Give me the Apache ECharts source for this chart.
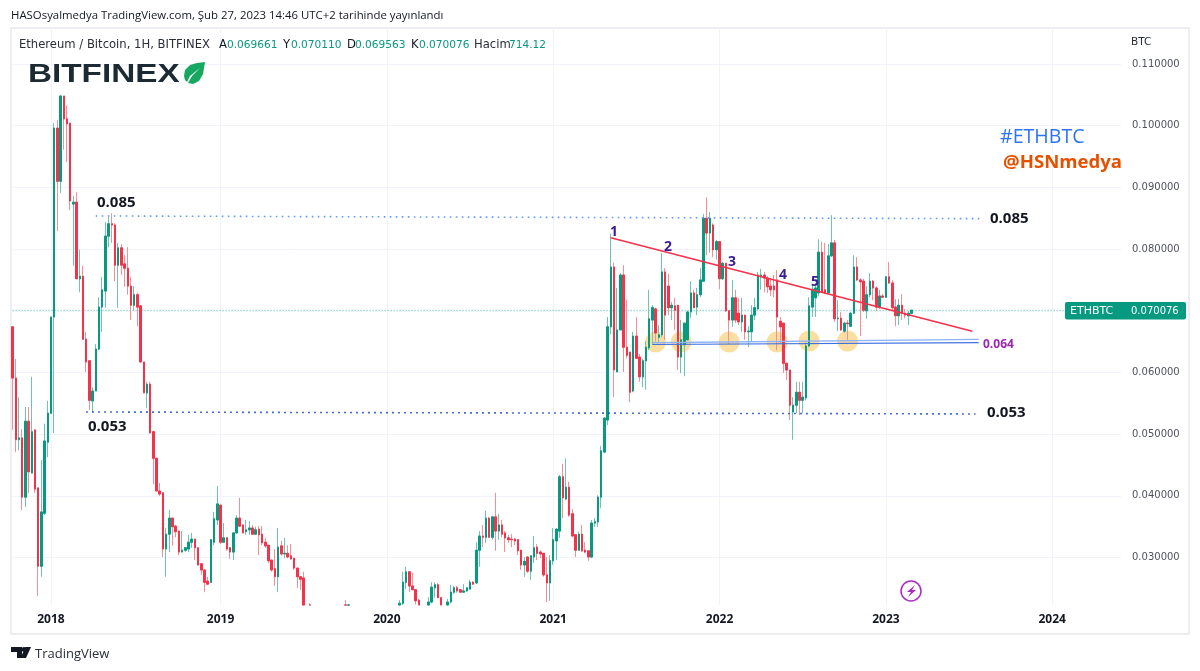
<!DOCTYPE html>
<html>
<head>
<meta charset="utf-8">
<style>html,body{margin:0;padding:0;background:#fff}#chart{width:1200px;height:671px}</style>
<script src="https://cdn.jsdelivr.net/npm/echarts@6/dist/echarts.min.js"></script>
</head>
<body>
<div id="chart"></div>
<script>
// weekly ETH/BTC candles
var opens = [
0.0674,0.0591,0.0491,0.0494,0.0398,0.0521,0.0437,0.0507,0.0413,0.0286,
0.0372,0.0487,0.0534,0.0690,0.0996,0.0910,0.1048,0.1011,0.1004,0.0873,
0.0876,0.0752,0.0756,0.0654,0.0619,0.0554,0.0570,0.0638,0.0706,0.0732,
0.0821,0.0841,0.0839,0.0774,0.0802,0.0776,0.0769,0.0740,0.0709,0.0726,
0.0708,0.0617,0.0567,0.0581,0.0504,0.0461,0.0408,0.0405,0.0314,0.0338,
0.0364,0.0351,0.0343,0.0309,0.0312,0.0314,0.0325,0.0330,0.0316,0.0290,
0.0280,0.0262,0.0260,0.0325,0.0361,0.0385,0.0325,0.0332,0.0316,0.0309,
0.0340,0.0364,0.0353,0.0342,0.0345,0.0348,0.0338,0.0346,0.0338,0.0325,
0.0320,0.0296,0.0282,0.0269,0.0319,0.0306,0.0307,0.0303,0.0299,0.0283,
0.0269,0.0267,0.0195,0.0188,0.0190,0.0185,0.0183,0.0186,0.0182,0.0179,
0.0184,0.0190,0.0202,0.0208,0.0212,0.0218,0.0205,0.0203,0.0199,0.0196,
0.0194,0.0190,0.0187,0.0186,0.0184,0.0182,0.0185,0.0189,0.0195,0.0200,
0.0207,0.0214,0.0226,0.0260,0.0277,0.0254,0.0248,0.0231,0.0212,0.0200,
0.0205,0.0228,0.0251,0.0256,0.0235,0.0215,0.0210,0.0228,0.0244,0.0251,
0.0248,0.0244,0.0246,0.0249,0.0260,0.0259,0.0312,0.0335,0.0333,0.0364,
0.0333,0.0366,0.0343,0.0353,0.0340,0.0332,0.0330,0.0330,0.0329,0.0312,
0.0288,0.0301,0.0278,0.0301,0.0317,0.0309,0.0307,0.0272,0.0259,0.0295,
0.0327,0.0343,0.0431,0.0395,0.0414,0.0371,0.0337,0.0312,0.0338,0.0312,
0.0311,0.0301,0.0356,0.0358,0.0398,0.0471,0.0523,0.0674,0.0771,0.0601,
0.0669,0.0758,0.0641,0.0633,0.0570,0.0659,0.0625,0.0593,0.0619,0.0640,
0.0685,0.0703,0.0657,0.0661,0.0763,0.0740,0.0705,0.0708,0.0709,0.0625,
0.0645,0.0653,0.0698,0.0729,0.0706,0.0726,0.0748,0.0850,0.0826,0.0839,
0.0799,0.0812,0.0752,0.0777,0.0700,0.0685,0.0721,0.0696,0.0682,0.0693,
0.0666,0.0666,0.0693,0.0703,0.0755,0.0758,0.0753,0.0740,0.0740,0.0750,
0.0683,0.0680,0.0615,0.0604,0.0536,0.0547,0.0568,0.0555,0.0559,0.0643,
0.0706,0.0721,0.0729,0.0795,0.0734,0.0729,0.0789,0.0810,0.0687,0.0688,
0.0667,0.0680,0.0675,0.0696,0.0771,0.0750,0.0748,0.0700,0.0726,0.0748,
0.0737,0.0706,0.0724,0.0722,0.0755,0.0745,0.0706,0.0692,0.0709,0.0696,
0.0692,0.0696];
var highs = [
0.0675,0.0622,0.0560,0.0508,0.0544,0.0544,0.0593,0.0507,0.0413,0.0458,
0.0517,0.0554,0.0690,0.1004,0.1009,0.1050,0.1048,0.1033,0.1004,0.0886,
0.0892,0.0799,0.0773,0.0666,0.0619,0.0576,0.0646,0.0722,0.0755,0.0844,
0.0852,0.0858,0.0842,0.0810,0.0808,0.0790,0.0803,0.0755,0.0740,0.0729,
0.0709,0.0617,0.0585,0.0585,0.0504,0.0461,0.0421,0.0405,0.0348,0.0377,
0.0364,0.0353,0.0343,0.0343,0.0317,0.0337,0.0340,0.0330,0.0316,0.0290,
0.0280,0.0269,0.0330,0.0374,0.0416,0.0385,0.0356,0.0332,0.0317,0.0341,
0.0369,0.0397,0.0353,0.0361,0.0359,0.0353,0.0350,0.0351,0.0351,0.0332,
0.0320,0.0296,0.0314,0.0348,0.0327,0.0332,0.0320,0.0322,0.0299,0.0283,
0.0269,0.0277,0.0205,0.0226,0.0198,0.0192,0.0192,0.0195,0.0190,0.0186,
0.0193,0.0205,0.0213,0.0218,0.0231,0.0225,0.0214,0.0210,0.0207,0.0204,
0.0200,0.0197,0.0194,0.0192,0.0190,0.0189,0.0193,0.0198,0.0203,0.0210,
0.0218,0.0231,0.0277,0.0285,0.0277,0.0275,0.0248,0.0233,0.0218,0.0210,
0.0236,0.0260,0.0260,0.0259,0.0235,0.0220,0.0233,0.0256,0.0254,0.0254,
0.0249,0.0257,0.0252,0.0264,0.0262,0.0325,0.0343,0.0353,0.0376,0.0366,
0.0367,0.0405,0.0371,0.0361,0.0343,0.0337,0.0338,0.0332,0.0329,0.0312,
0.0301,0.0301,0.0303,0.0335,0.0322,0.0312,0.0307,0.0301,0.0304,0.0348,
0.0348,0.0434,0.0452,0.0461,0.0423,0.0379,0.0337,0.0342,0.0353,0.0325,
0.0311,0.0361,0.0364,0.0401,0.0481,0.0528,0.0690,0.0825,0.0778,0.0737,
0.0761,0.0774,0.0718,0.0633,0.0666,0.0690,0.0630,0.0622,0.0651,0.0734,
0.0709,0.0705,0.0677,0.0794,0.0769,0.0760,0.0714,0.0721,0.0709,0.0685,
0.0680,0.0700,0.0748,0.0734,0.0737,0.0769,0.0857,0.0884,0.0860,0.0842,
0.0815,0.0812,0.0779,0.0777,0.0701,0.0750,0.0734,0.0721,0.0721,0.0693,
0.0675,0.0709,0.0721,0.0763,0.0768,0.0763,0.0756,0.0753,0.0758,0.0766,
0.0690,0.0680,0.0615,0.0604,0.0560,0.0585,0.0585,0.0585,0.0649,0.0722,
0.0742,0.0745,0.0816,0.0812,0.0810,0.0808,0.0855,0.0815,0.0717,0.0698,
0.0682,0.0685,0.0698,0.0790,0.0787,0.0753,0.0752,0.0740,0.0761,0.0750,
0.0740,0.0734,0.0727,0.0756,0.0779,0.0750,0.0719,0.0719,0.0727,0.0703,
0.0700,0.0701];
var lows = [
0.0507,0.0471,0.0474,0.0377,0.0382,0.0405,0.0437,0.0405,0.0238,0.0269,
0.0369,0.0463,0.0534,0.0502,0.0829,0.0891,0.0961,0.0941,0.0863,0.0773,
0.0752,0.0730,0.0654,0.0601,0.0539,0.0536,0.0570,0.0636,0.0666,0.0705,
0.0803,0.0810,0.0748,0.0705,0.0758,0.0739,0.0726,0.0685,0.0700,0.0675,
0.0617,0.0567,0.0542,0.0502,0.0419,0.0408,0.0400,0.0301,0.0269,0.0309,
0.0319,0.0333,0.0304,0.0309,0.0309,0.0309,0.0316,0.0296,0.0288,0.0272,
0.0244,0.0257,0.0260,0.0320,0.0353,0.0322,0.0325,0.0311,0.0298,0.0296,
0.0340,0.0351,0.0340,0.0337,0.0337,0.0338,0.0337,0.0304,0.0320,0.0316,
0.0291,0.0277,0.0254,0.0244,0.0303,0.0299,0.0299,0.0296,0.0280,0.0251,
0.0248,0.0188,0.0185,0.0186,0.0182,0.0178,0.0176,0.0180,0.0176,0.0172,
0.0180,0.0186,0.0196,0.0200,0.0208,0.0200,0.0198,0.0195,0.0192,0.0190,
0.0186,0.0183,0.0181,0.0180,0.0179,0.0178,0.0181,0.0184,0.0190,0.0196,
0.0202,0.0210,0.0222,0.0249,0.0244,0.0248,0.0224,0.0207,0.0190,0.0190,
0.0200,0.0226,0.0235,0.0235,0.0215,0.0200,0.0205,0.0226,0.0241,0.0243,
0.0243,0.0243,0.0244,0.0248,0.0256,0.0257,0.0285,0.0317,0.0324,0.0332,
0.0329,0.0311,0.0329,0.0333,0.0309,0.0324,0.0317,0.0320,0.0304,0.0280,
0.0269,0.0275,0.0264,0.0291,0.0296,0.0299,0.0269,0.0228,0.0230,0.0288,
0.0296,0.0332,0.0364,0.0393,0.0366,0.0333,0.0301,0.0312,0.0309,0.0307,
0.0295,0.0299,0.0350,0.0350,0.0380,0.0471,0.0515,0.0662,0.0560,0.0601,
0.0669,0.0601,0.0623,0.0552,0.0568,0.0623,0.0585,0.0576,0.0572,0.0636,
0.0645,0.0650,0.0648,0.0657,0.0653,0.0693,0.0685,0.0669,0.0604,0.0599,
0.0594,0.0653,0.0688,0.0705,0.0693,0.0722,0.0747,0.0790,0.0794,0.0787,
0.0783,0.0735,0.0750,0.0698,0.0646,0.0674,0.0680,0.0677,0.0666,0.0653,
0.0641,0.0650,0.0685,0.0702,0.0734,0.0730,0.0729,0.0724,0.0722,0.0636,
0.0648,0.0599,0.0588,0.0523,0.0491,0.0534,0.0531,0.0534,0.0555,0.0641,
0.0690,0.0690,0.0724,0.0730,0.0727,0.0727,0.0787,0.0682,0.0667,0.0667,
0.0664,0.0653,0.0674,0.0695,0.0748,0.0659,0.0698,0.0687,0.0722,0.0717,
0.0700,0.0703,0.0721,0.0721,0.0744,0.0701,0.0675,0.0677,0.0685,0.0688,
0.0677,0.0695];
var closes = [
0.0591,0.0491,0.0494,0.0398,0.0521,0.0439,0.0504,0.0411,0.0286,0.0374,
0.0489,0.0534,0.0690,0.0996,0.0910,0.1048,0.1011,0.1003,0.0878,0.0876,
0.0752,0.0756,0.0654,0.0617,0.0555,0.0570,0.0638,0.0706,0.0734,0.0821,
0.0841,0.0839,0.0774,0.0802,0.0774,0.0769,0.0740,0.0709,0.0726,0.0706,
0.0617,0.0567,0.0581,0.0502,0.0461,0.0408,0.0403,0.0314,0.0338,0.0364,
0.0350,0.0342,0.0309,0.0312,0.0316,0.0325,0.0330,0.0316,0.0288,0.0280,
0.0260,0.0257,0.0329,0.0363,0.0387,0.0325,0.0332,0.0314,0.0309,0.0340,
0.0364,0.0351,0.0340,0.0345,0.0348,0.0338,0.0345,0.0337,0.0324,0.0319,
0.0295,0.0280,0.0269,0.0317,0.0306,0.0307,0.0301,0.0298,0.0283,0.0269,
0.0265,0.0195,0.0188,0.0190,0.0185,0.0183,0.0186,0.0182,0.0179,0.0184,
0.0190,0.0202,0.0208,0.0212,0.0218,0.0205,0.0203,0.0199,0.0196,0.0194,
0.0190,0.0187,0.0186,0.0184,0.0182,0.0185,0.0189,0.0195,0.0200,0.0207,
0.0214,0.0226,0.0260,0.0277,0.0254,0.0248,0.0230,0.0212,0.0200,0.0205,
0.0228,0.0252,0.0256,0.0235,0.0215,0.0210,0.0228,0.0244,0.0251,0.0246,
0.0244,0.0246,0.0251,0.0260,0.0257,0.0312,0.0335,0.0333,0.0364,0.0333,
0.0366,0.0343,0.0353,0.0338,0.0332,0.0329,0.0329,0.0327,0.0311,0.0288,
0.0294,0.0278,0.0303,0.0316,0.0307,0.0306,0.0272,0.0259,0.0295,0.0329,
0.0346,0.0431,0.0397,0.0414,0.0369,0.0335,0.0312,0.0338,0.0311,0.0309,
0.0301,0.0356,0.0358,0.0398,0.0473,0.0526,0.0674,0.0771,0.0604,0.0669,
0.0758,0.0641,0.0628,0.0568,0.0659,0.0623,0.0593,0.0619,0.0641,0.0687,
0.0705,0.0664,0.0661,0.0763,0.0693,0.0705,0.0709,0.0701,0.0625,0.0653,
0.0680,0.0698,0.0729,0.0705,0.0726,0.0750,0.0850,0.0826,0.0850,0.0799,
0.0812,0.0752,0.0777,0.0700,0.0685,0.0721,0.0685,0.0682,0.0693,0.0666,
0.0667,0.0693,0.0705,0.0758,0.0758,0.0753,0.0739,0.0734,0.0734,0.0690,
0.0674,0.0615,0.0604,0.0547,0.0547,0.0568,0.0555,0.0560,0.0643,0.0708,
0.0735,0.0737,0.0795,0.0730,0.0729,0.0789,0.0810,0.0687,0.0688,0.0669,
0.0680,0.0679,0.0696,0.0771,0.0750,0.0747,0.0701,0.0726,0.0748,0.0737,
0.0706,0.0724,0.0722,0.0755,0.0745,0.0705,0.0692,0.0709,0.0696,0.0693,
0.0696,0.0701];

var yearBars = [12, 65, 117, 169, 221, 273, 325];
var yearLabels = ['2018', '2019', '2020', '2021', '2022', '2023', '2024'];
var lastPrice = 0.070076;

// drawn lines: [bar, price]
var resistance = [[26, 0.08537], [303, 0.08493]];
var support = [[23, 0.05360], [301, 0.05328]];
var trendLine = [[187, 0.08185], [300, 0.06668]];
var midLineA = [[200, 0.06483], [302, 0.06537]];
var midLineB = [[200, 0.06454], [302, 0.06483]];
var touches = [[201, 0.06495], [209, 0.06495], [224, 0.06495], [239, 0.06495], [249, 0.06511], [261, 0.06511]];

var axisMin = 0.02232, axisMax = 0.11583;
var barCount = 347;
var categories = [];
for (var i = 0; i < barCount; i++) {
  var y = yearBars.indexOf(i);
  categories.push(y >= 0 ? yearLabels[y] : 'w' + i);
}

var upColor = '#089981', downColor = '#f6314a';
var upWick = '#6cc4b3', downWick = '#f98d96';

// candlestick only drops boxes fully out of the grid, so cut the rest at the axis floor
function floorAt(v) { return Math.max(v, axisMin); }
var candles = [], bodies = [];
for (var k = 0; k < opens.length; k++) {
  if (highs[k] < axisMin) {
    candles.push(['-', '-', '-', '-']);
    bodies.push(['-', '-', '-', '-']);
    continue;
  }
  var o = floorAt(opens[k]), c = floorAt(closes[k]);
  candles.push([o, c, floorAt(lows[k]), highs[k]]);
  bodies.push([o, c, Math.min(o, c), Math.max(o, c)]);
}

var uiFont = '"DejaVu Sans"';
function label(text, x, y, font, fill) {
  return { type: 'text', x: x, y: y, z: 20, silent: true, style: { text: text, font: font, fill: fill, align: 'left', verticalAlign: 'middle' } };
}
function legendPair(name, x, value) {
  return [
    label(name, x, 45, '11.6px ' + uiFont, '#131722'),
    label(value, x + 8, 45, '10.6px ' + uiFont, '#089981')
  ];
}
function shape(points, fill) {
  return { type: 'polygon', z: 20, silent: true, shape: { points: points }, style: { fill: fill } };
}

var graphics = [
  { type: 'rect', z: 0, shape: { x: 11, y: 28, width: 1178, height: 606 }, style: { fill: 'none', stroke: '#e8e9f0', lineWidth: 1.5 }, silent: true },
  label('HASOsyalmedya TradingView.com, Şub 27, 2023 14:46 UTC+2 tarihinde yayınlandı', 11, 16, '11.4px "Open Sans"', '#131722'),
  label('Ethereum / Bitcoin, 1H, BITFINEX', 19, 45, '11.6px ' + uiFont, '#2a2e39'),
  label('Hacim', 474, 45, '11.6px ' + uiFont, '#2a2e39'),
  label('714.12', 509, 45, '10.6px ' + uiFont, '#089981'),
  label('BTC', 1131, 42, '10.5px ' + uiFont, '#2a2e39'),
  // logo
  { type: 'text', x: 28, y: 75, z: 20, scaleX: 1.28, silent: true, style: { text: 'BITFINEX', font: 'bold 26px "Liberation Sans"', fill: '#1b2a33', align: 'left', verticalAlign: 'middle' } },
  shape([[205, 62], [197, 63], [190, 65], [185, 70], [184, 76], [185, 80], [187, 82], [190, 76], [200, 68], [192, 76], [188, 83], [193, 84], [199, 81], [203, 74]], '#16a860'),
  // annotations
  label('0.085', 97, 203, 'bold 15px "Open Sans"', '#131722'),
  label('0.085', 990, 219, 'bold 15px "Open Sans"', '#131722'),
  label('0.053', 88, 427, 'bold 15px "Open Sans"', '#131722'),
  label('0.053', 987, 413, 'bold 15px "Open Sans"', '#131722'),
  label('0.064', 983, 345, 'bold 12px "Open Sans"', '#9c27b0'),
  label('#ETHBTC', 1000, 137, '19.6px "Open Sans"', '#2f74f5'),
  label('@HSNmedya', 1003, 163, 'bold 18.6px "Open Sans"', '#e65100'),
  label('1', 610, 232, 'bold 14px "Open Sans"', '#3c1a96'),
  label('2', 664, 247, 'bold 14px "Open Sans"', '#3c1a96'),
  label('3', 728, 262, 'bold 14px "Open Sans"', '#3c1a96'),
  label('4', 779, 275, 'bold 14px "Open Sans"', '#3c1a96'),
  label('5', 811, 282, 'bold 14px "Open Sans"', '#3c1a96'),
  // last price tag
  { type: 'rect', z: 19, silent: true, shape: { x: 1065, y: 302, width: 121, height: 17.5, r: 2 }, style: { fill: '#089981' } },
  label('ETHBTC', 1070, 311, '11px ' + uiFont, '#ffffff'),
  label('0.070076', 1131, 311, '10px ' + uiFont, '#ffffff'),
  // lightning icon
  { type: 'circle', z: 20, silent: true, shape: { cx: 911, cy: 591, r: 10 }, style: { fill: 'none', stroke: '#a82bbf', lineWidth: 1.5 } },
  shape([[915, 585], [907, 592], [911, 592], [908, 597], [916, 590], [912, 590]], '#a82bbf'),
  // TradingView footer
  shape([[11, 647], [22, 647], [22, 658], [17, 658], [17, 652], [11, 652]], '#131722'),
  shape([[31, 647], [26, 658], [20.5, 658], [25.5, 647]], '#131722'),
  { type: 'circle', z: 21, silent: true, shape: { cx: 24, cy: 649.5, r: 2.4 }, style: { fill: '#131722' } },
  label('TradingView', 35, 654, '13px "Open Sans"', '#2a2e39')
].concat(
  legendPair('A', 219, '0.069661'),
  legendPair('Y', 283, '0.070110'),
  legendPair('D', 347, '0.069563'),
  legendPair('K', 411, '0.070076')
);

function drawnLine(points, color, width, type, z) {
  return {
    type: 'line', data: points, showSymbol: false, symbol: 'none', z: z || 4, silent: true,
    lineStyle: { color: color, width: width, type: type }
  };
}

var option = {
  animation: false,
  backgroundColor: '#fff',
  graphic: graphics,
  grid: { left: 11, right: 79, top: 28, bottom: 66 },
  xAxis: {
    type: 'category',
    data: categories,
    axisLine: { show: false },
    axisTick: { show: false },
    splitLine: { show: false },
    axisLabel: {
      interval: function (index) { return yearBars.indexOf(index) >= 0; },
      color: '#131722',
      fontFamily: 'Open Sans',
      fontWeight: 'bold',
      fontSize: 12,
      margin: 9,
      hideOverlap: false
    }
  },
  yAxis: {
    type: 'value',
    position: 'right',
    min: axisMin,
    max: axisMax,
    splitNumber: 9,
    axisLine: { show: false },
    axisTick: { show: false },
    splitLine: { show: true, showMinLine: false, showMaxLine: false, lineStyle: { color: '#f0f3fa', width: 1 } },
    axisLabel: {
      showMinLabel: false,
      showMaxLabel: false,
      color: '#50535e',
      fontFamily: 'DejaVu Sans',
      fontSize: 10,
      margin: 11,
      formatter: function (v) {
        return Math.abs(v - 0.07) < 1e-6 ? '' : v.toFixed(6);
      }
    }
  },
  series: [
    {
      type: 'candlestick',
      name: 'wicks',
      data: candles,
      barWidth: 2,
      z: 2,
      silent: true,
      itemStyle: { color: upWick, color0: downWick, borderColor: upWick, borderColor0: downWick, borderWidth: 1 },
      markLine: {
        silent: true, symbol: 'none', z: 1, animation: false,
        label: { show: false },
        lineStyle: { color: '#f0f3fa', width: 1, type: 'solid' },
        data: yearLabels.map(function (yr) { return { xAxis: yr }; })
      }
    },
    {
      type: 'candlestick',
      name: 'bodies',
      data: bodies,
      barWidth: 2,
      z: 3,
      silent: true,
      itemStyle: { color: upColor, color0: downColor, borderColor: upColor, borderColor0: downColor, borderWidth: 1 }
    },
    {
      type: 'scatter', data: touches, symbolSize: 21, z: 1, silent: true,
      itemStyle: { color: 'rgba(248,196,90,0.7)' }
    },
    drawnLine([[0, lastPrice], [barCount - 1, lastPrice]], '#46b5a0', 1, [1, 2], 1),
    drawnLine(resistance, '#5b9cf6', 1.6, [1.6, 4.4]),
    drawnLine(support, '#1848cc', 1.6, [1.6, 4.4]),
    drawnLine(midLineA, '#8fb2f6', 1.4, 'solid'),
    drawnLine(midLineB, '#3f6fe0', 1.2, 'solid'),
    drawnLine(trendLine, '#f6314a', 1.6, 'solid')
  ]
};

var chart = echarts.init(document.getElementById('chart'));
chart.setOption(option);
</script>
</body>
</html>
